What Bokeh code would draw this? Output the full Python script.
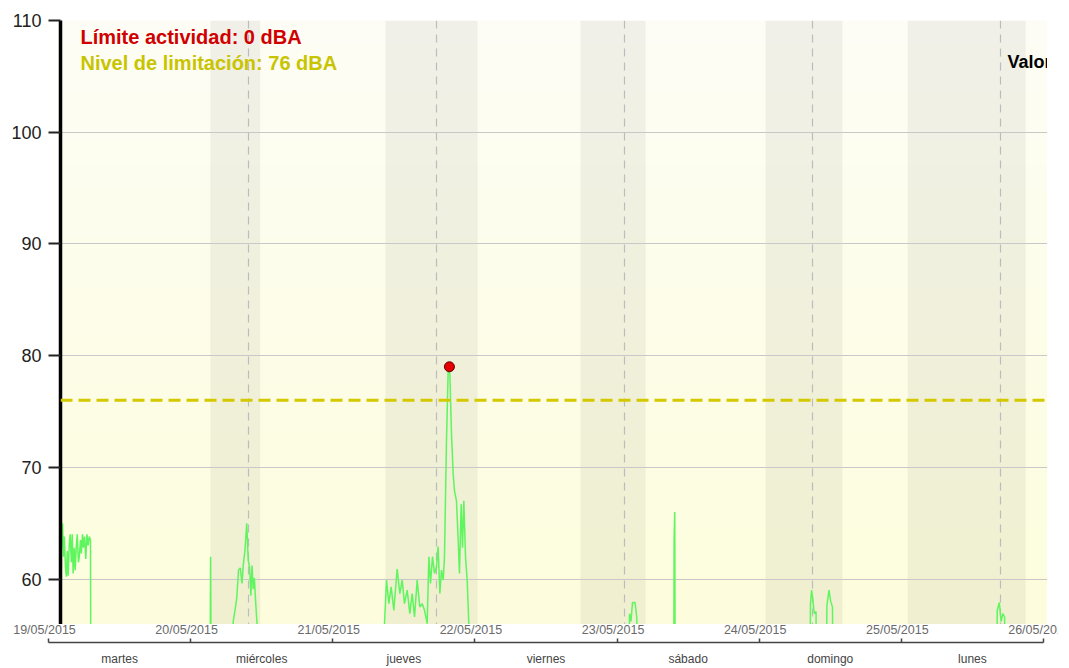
import numpy as np
from bokeh.plotting import figure
from bokeh.models import Range1d, FixedTicker, Span, ColumnDataSource
from bokeh.embed import file_html
from bokeh.resources import INLINE
from bokeh.core.properties import value

# ---------------- data ----------------
# hours since 19/05/2015 00:00 (upper chart) and measured level (dBA)
hours = [0.00, 0.15, 0.35, 0.50, 0.65, 0.85, 1.00, 1.15, 1.30, 1.50, 1.65, 1.85, 2.00, 2.15,
         2.35, 2.50, 2.70, 2.85, 3.05, 3.20, 3.40, 3.55, 3.75, 3.90, 4.10, 4.30, 4.50, 4.70,
         4.90, 5.10, 5.20,
         25.40, 25.55, 25.70,
         29.20, 29.40, 29.70, 30.00, 30.30, 30.60, 30.90, 31.10, 31.40, 31.70, 31.95, 32.20,
         32.40, 32.60, 32.80, 33.00, 33.20, 33.45, 33.55,
         55.00, 55.15, 55.49, 55.89, 56.28, 56.74, 57.30, 57.76, 58.16, 58.55, 59.01, 59.46,
         59.86, 60.26, 60.71, 61.16, 61.56, 61.96, 62.41, 62.70, 62.98, 63.32, 63.66, 64.00,
         64.28, 64.57, 64.85, 65.14, 65.36, 65.70, 65.99, 66.27, 66.55, 66.84, 67.06, 67.40,
         67.69, 67.91, 68.20, 68.43, 68.65, 68.94, 69.22, 69.50, 69.60,
         96.70, 96.85, 97.10, 97.36, 97.80, 98.10, 98.21,
         104.35, 104.45, 104.55, 104.65,
         127.50, 127.65, 127.85, 128.05, 128.30, 128.60, 128.75,
         130.30, 130.45, 130.80, 131.10, 131.40, 131.60,
         159.20, 159.45, 159.80, 160.10, 160.40, 160.70, 160.85,
         168.00]
levels = [45.0, 62.5, 65.0, 62.0, 63.8, 61.0, 60.2, 62.5, 60.3, 63.2, 64.0, 61.5, 64.0, 60.5,
          62.8, 60.8, 63.0, 64.0, 61.5, 62.0, 63.5, 62.3, 64.0, 62.8, 63.8, 61.8, 64.0, 63.0,
          63.8, 63.5, 45.0,
          45.0, 62.0, 45.0,
          45.0, 56.2, 57.2, 58.3, 60.8, 61.0, 59.6, 61.2, 62.6, 65.0, 61.7, 61.0,
          58.5, 61.2, 59.1, 60.1, 58.1, 56.0, 45.0,
          45.0, 56.0, 59.9, 57.8, 59.3, 57.2, 60.9, 58.7, 59.9, 57.8, 59.0, 56.9,
          58.7, 56.6, 59.9, 57.5, 57.8, 57.2, 56.0, 62.0, 59.6, 62.0, 60.5, 61.1,
          62.9, 58.7, 60.8, 59.9, 62.0, 72.4, 78.7, 78.4, 73.0, 69.4, 67.9, 67.0,
          63.5, 60.5, 66.7, 62.8, 67.0, 62.0, 59.9, 56.0, 45.0,
          45.0, 56.9, 56.2, 57.9, 57.9, 56.5, 45.0,
          45.0, 63.6, 66.0, 45.0,
          45.0, 57.8, 59.0, 58.2, 56.9, 57.1, 45.0,
          45.0, 57.6, 59.0, 58.0, 57.5, 45.0,
          45.0, 57.2, 57.9, 56.2, 56.9, 56.6, 45.0,
          45.0]
peak_hour = [66.2]
peak_level = [79.0]
activity_limit = 0
limit_level = 76
marker_hours = [32, 64, 96, 128, 160]
band_start = [25.5, 55.3, 88.5, 120.0, 144.2]
band_end = [34.0, 71.0, 99.6, 133.1, 164.3]
y_ticks = [60, 70, 80, 90, 100, 110]
series_name = "Valor"

dates = ["19/05/2015", "20/05/2015", "21/05/2015", "22/05/2015",
         "23/05/2015", "24/05/2015", "25/05/2015", "26/05/2015"]
days = ["martes", "miércoles", "jueves", "viernes", "sábado", "domingo", "lunes"]

FONT = value("Liberation Sans")
Y_MIN, Y_MAX = 55.93, 110.0
X_MAX = 168.0

# ---------------- main chart ----------------
p = figure(frame_width=987, frame_height=604,
           x_range=Range1d(0, X_MAX), y_range=Range1d(Y_MIN, Y_MAX),
           output_backend="svg", toolbar_location=None, x_axis_location=None,
           min_border_left=60, min_border_top=20, min_border_right=0, min_border_bottom=0,
           background_fill_color="#fdfdf6", border_fill_color="white",
           outline_line_color=None)

# day/night bands
p.quad(left=band_start, right=band_end, bottom=Y_MIN, top=Y_MAX,
       fill_color="black", fill_alpha=0.05, line_color=None, level="image")

# soft yellow gradient towards the top
tops = np.linspace(Y_MAX, Y_MIN, 26)[:-2]
grad = ColumnDataSource(dict(top=tops, bottom=[Y_MIN] * len(tops)))
p.quad(left=0, right=X_MAX, top="top", bottom="bottom", source=grad,
       fill_color="#ffffb8", fill_alpha=0.02, line_color=None, level="image")

for h in marker_hours:
    p.add_layout(Span(location=h, dimension="height", line_color="#bcbcbc",
                      line_dash="8 6", line_width=1.2, level="underlay"))

p.line(hours, levels, line_color="#5ef55e", line_width=1.5)

p.add_layout(Span(location=limit_level, dimension="width", line_color="#d4c800",
                  line_dash="12 6", line_width=3))

p.scatter(peak_hour, peak_level, size=10, fill_color="#e60000",
          line_color="#5a0000", line_width=1)

p.text(x=[3.4], y=[108.48], text=[f"Límite actividad: {activity_limit} dBA"],
       text_color="#d00000", text_font=FONT, text_font_style="bold",
       text_font_size="20px", text_baseline="middle", text_align="left")
p.text(x=[3.4], y=[106.2], text=[f"Nivel de limitación: {limit_level} dBA"],
       text_color="#c8c400", text_font=FONT, text_font_style="bold",
       text_font_size="20px", text_baseline="middle", text_align="left")
p.text(x=[161.2], y=[106.25], text=[series_name],
       text_color="black", text_font=FONT, text_font_style="bold",
       text_font_size="18px", text_baseline="middle", text_align="left")

p.xgrid.visible = False
p.ygrid.ticker = FixedTicker(ticks=y_ticks)
p.ygrid.grid_line_color = "#c8c8c8"
p.ygrid.grid_line_width = 1
yax = p.yaxis[0]
yax.ticker = FixedTicker(ticks=y_ticks)
yax.axis_line_color = "black"
yax.axis_line_width = 3.5
yax.major_tick_out = 12
yax.major_tick_in = 0
yax.major_tick_line_width = 2
yax.major_tick_line_color = "#222222"
yax.minor_tick_out = 0
yax.minor_tick_in = 0
yax.major_label_text_font = "Liberation Sans"
yax.major_label_text_font_size = "18px"
yax.major_label_text_color = "#222222"
yax.major_label_standoff = 7

# ---------------- bottom date axis (separate root, own alignment) ----------------
px_per_hour = 142.14 / 24.0
x0 = -48 / px_per_hour
q = figure(frame_width=1058, frame_height=18,
           x_range=Range1d(x0, x0 + 1058 / px_per_hour), y_range=Range1d(0, 1),
           output_backend="svg", toolbar_location=None, y_axis_location=None,
           min_border_left=0, min_border_right=0, min_border_top=0, min_border_bottom=0,
           background_fill_color="white", border_fill_color="white",
           outline_line_color=None)
q.xgrid.visible = False
q.ygrid.visible = False

midnights = [24 * i for i in range(len(dates))]
middays = [24 * i + 12 for i in range(len(days))]
q.text(x=midnights, y=[0.7] * len(dates), text=dates, x_offset=-4,
       text_color="#6a6a6a", text_font=FONT, text_font_size="12.5px",
       text_baseline="middle", text_align="center")

xa = q.xaxis[0]
xa.ticker = FixedTicker(ticks=middays, minor_ticks=midnights)
xa.bounds = (0, 168)
xa.major_label_overrides = {m: d for m, d in zip(middays, days)}
xa.axis_line_color = "#444444"
xa.axis_line_width = 1.5
xa.major_tick_line_color = None
xa.major_tick_in = 0
xa.major_tick_out = 0
xa.minor_tick_in = 4
xa.minor_tick_out = 0
xa.minor_tick_line_color = "#444444"
xa.minor_tick_line_width = 1.5
xa.major_label_text_font = "Liberation Sans"
xa.major_label_text_font_size = "12px"
xa.major_label_text_color = "#444444"
xa.major_label_standoff = 9

open("out.html", "w").write(file_html([p, q], INLINE))
